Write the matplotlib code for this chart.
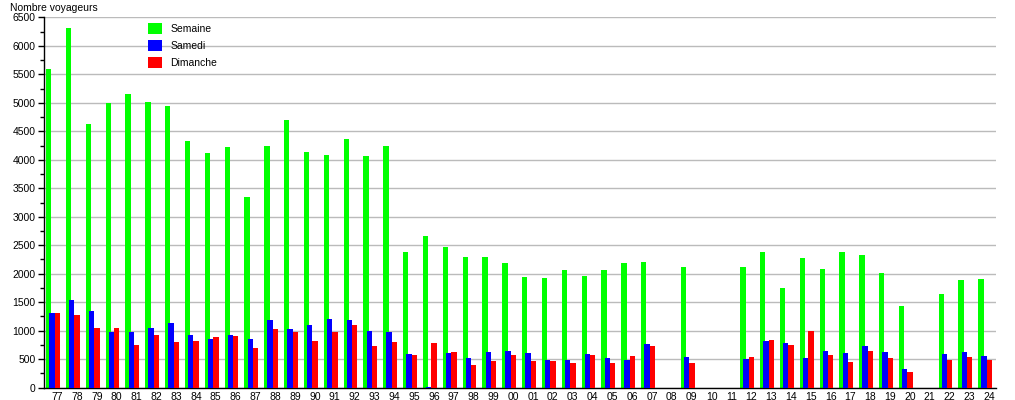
import matplotlib
matplotlib.use("Agg")
import matplotlib.pyplot as plt
import numpy as np

years = ["77","78","79","80","81","82","83","84","85","86","87","88","89","90","91",
         "92","93","94","95","96","97","98","99","00","01","02","03","04","05","06","07",
         "08","09","10","11","12","13","14","15","16","17","18","19","20","21","22","23","24"]

semaine = [5600,6310,4630,5000,5160,5020,4950,4330,4120,4230,3350,4240,4700,4140,4090,
           4370,4070,4240,2380,2660,2470,2300,2300,2180,1950,1930,2070,1960,2070,2190,2210,
           0,2120,0,0,2120,2390,1750,2280,2090,2390,2320,2020,1440,0,1650,1890,1910]

samedi = [1310,1540,1350,980,980,1050,1140,930,860,930,860,1190,1035,1100,1210,
          1190,1000,980,590,20,610,520,630,645,610,490,490,590,520,490,770,
          0,540,0,0,500,820,790,520,650,610,730,630,330,0,590,630,560]

dimanche = [1310,1280,1050,1050,750,930,800,820,890,910,700,1030,980,820,980,
            1100,730,800,575,785,625,400,470,575,470,470,435,575,435,555,730,
            0,435,0,0,540,840,750,1000,575,450,645,520,280,0,490,540,490]

plt.rcParams['font.family'] = ['Liberation Sans', 'DejaVu Sans']

fig = plt.figure(figsize=(10.15, 4.0), dpi=100)
ax = fig.add_axes([44/1015, 1-387.7/400, 952/1015, (387.7-17.3)/400])

x = np.arange(len(years))
w = 0.27
ax.bar(x - 0.26, semaine, width=w, color='#00ff00', label='Semaine', zorder=2)
ax.bar(x - 0.10, samedi, width=w, color='#0000ff', label='Samedi', zorder=3)
ax.bar(x + 0.17, dimanche, width=w, color='#ff0000', label='Dimanche', zorder=4)

ax.set_xlim(-0.5, len(years) - 0.5)
ax.set_ylim(0, 6500)
ax.set_xticks(x + 0.16)
ax.set_xticklabels(years, fontsize=7.5)
ax.tick_params(axis='x', length=0, pad=3)
ax.set_yticks(np.arange(0, 6501, 500))
ax.set_yticks(np.arange(250, 6500, 500), minor=True)
ax.tick_params(axis='y', which='major', length=4, width=1, labelsize=7.5, pad=2)
ax.tick_params(axis='y', which='minor', length=3, width=1)
ax.yaxis.grid(True, color='#bbbbbb', linewidth=1, zorder=0)
ax.set_axisbelow(True)
for s in ['top', 'right']:
    ax.spines[s].set_visible(False)
ax.spines['left'].set_linewidth(1)
ax.spines['bottom'].set_linewidth(1)

fig.text(10/1015, 1-3/400, "Nombre voyageurs", fontsize=7.5, ha='left', va='top')

leg = ax.legend(loc='upper left', bbox_to_anchor=(148/1015, 1-22.5/400),
                bbox_transform=fig.transFigure, frameon=False, fontsize=7.5,
                handlelength=1.3, handleheight=1.25, handletextpad=0.85,
                labelspacing=0.6, borderpad=0, borderaxespad=0)

fig.savefig("out.png", dpi=100)
